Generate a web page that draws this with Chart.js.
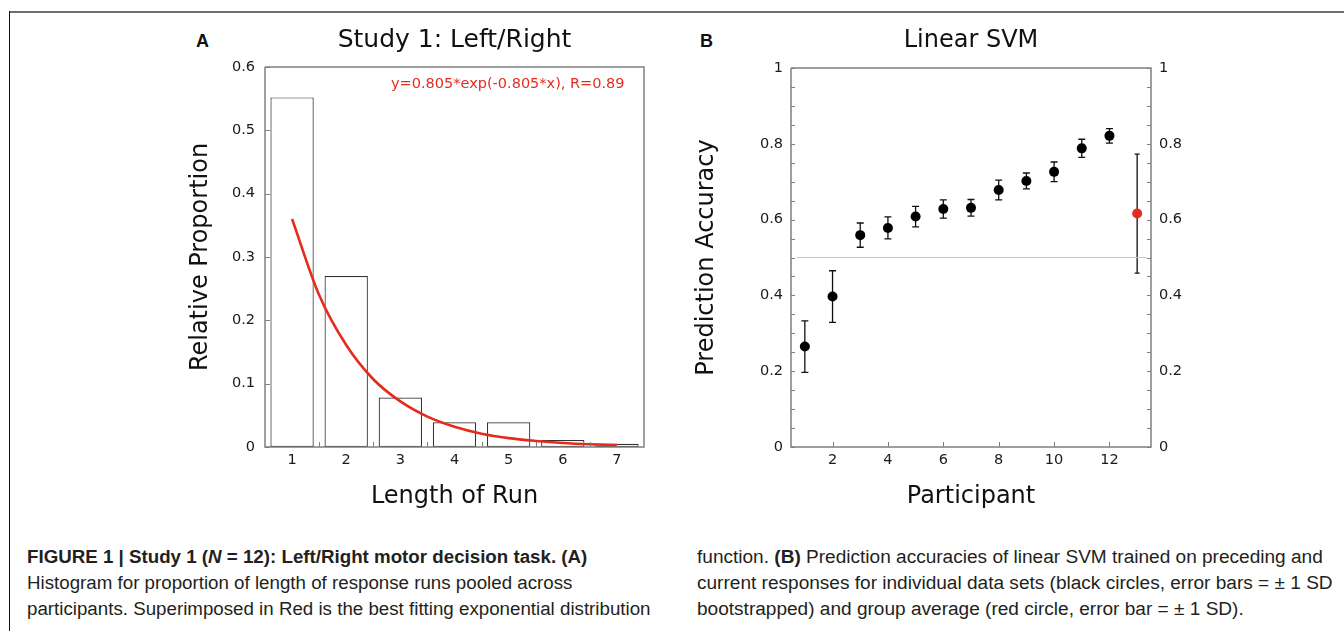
<!DOCTYPE html>
<html>
<head>
<meta charset="utf-8">
<script src="https://cdn.jsdelivr.net/npm/chart.js@4.4.0/dist/chart.umd.min.js"></script>
<style>
html, body { margin: 0; padding: 0; background: #fff; }
body { width: 1344px; height: 631px; position: relative; overflow: hidden; font-family: "DejaVu Sans", sans-serif; }
.frame-top { position: absolute; left: 9px; top: 11px; width: 1335px; height: 2px; background: #6e6e6e; }
.frame-left { position: absolute; left: 9px; top: 11px; width: 1px; height: 620px; background: #111; }
.panel { position: absolute; font-family: "Liberation Sans", Arial, sans-serif; font-weight: bold; font-size: 18px; color: #111; }
#chartA { position: absolute; left: 170px; top: 18px; }
#chartB { position: absolute; left: 680px; top: 18px; }
.fit { position: absolute; left: 391px; top: 75px; color: #e62b1e; font-size: 14.5px; white-space: nowrap; }
.cap { position: absolute; white-space: nowrap; font-family: "Liberation Sans", Arial, sans-serif; font-size: 18px; line-height: 26px; color: #231f20; transform-origin: 0 50%; }
</style>
</head>
<body>
<div class="frame-top"></div>
<div class="frame-left"></div>
<div class="panel" style="left:196px; top:31px;">A</div>
<div class="panel" style="left:700px; top:31px;">B</div>
<canvas id="chartA" width="490" height="505"></canvas>
<canvas id="chartB" width="540" height="505"></canvas>
<div class="fit">y=0.805*exp(-0.805*x), R=0.89</div>

<div class="cap" data-col="L" data-w="560" style="left:27px; top:544px;"><b>FIGURE 1 | Study 1 (<i>N</i> = 12): Left/Right motor decision task. (A)</b></div>
<div class="cap" data-col="L" style="left:27px; top:570px;">Histogram for proportion of length of response runs pooled across</div>
<div class="cap" data-col="L" data-w="624" style="left:27px; top:596px;">participants. Superimposed in Red is the best fitting exponential distribution</div>
<div class="cap" data-col="R" style="left:697px; top:544px;">function. <b>(B)</b> Prediction accuracies of linear SVM trained on preceding and</div>
<div class="cap" data-col="R" data-w="636" style="left:697px; top:570px;">current responses for individual data sets (black circles, error bars = ± 1 SD</div>
<div class="cap" data-col="R" style="left:697px; top:596px;">bootstrapped) and group average (red circle, error bar = ± 1 SD).</div>

<script>
// Panel A: run-length histogram + exponential fit
const runLengths = [1, 2, 3, 4, 5, 6, 7];
const runProportion = [0.552, 0.270, 0.078, 0.039, 0.039, 0.011, 0.005];
const fitX = [1, 1.5, 2, 2.5, 3, 3.5, 4, 4.5, 5, 5.5, 6, 6.5, 7];
const fitY = [0.36, 0.24, 0.161, 0.107, 0.072, 0.048, 0.032, 0.021, 0.014, 0.0096, 0.0064, 0.0043, 0.0029];
const yTicksA = [0, 0.1, 0.2, 0.3, 0.4, 0.5, 0.6];
const xMinorA = [1.5, 2.5, 3.5, 4.5, 5.5, 6.5];

// Panel B: linear SVM accuracy per participant
const participants = [1, 2, 3, 4, 5, 6, 7, 8, 9, 10, 11, 12];
const accuracy = [0.265, 0.397, 0.559, 0.578, 0.608, 0.628, 0.631, 0.678, 0.702, 0.726, 0.788, 0.821];
const accuracySd = [0.068, 0.068, 0.032, 0.029, 0.027, 0.024, 0.022, 0.026, 0.021, 0.026, 0.024, 0.019];
const groupX = [13];
const groupMean = [0.616];
const groupSd = [0.157];
const chanceX = [0.7, 13.35];
const chanceY = [0.5, 0.5];
const xTicksB = [2, 4, 6, 8, 10, 12];
const yTicksB = [0, 0.2, 0.4, 0.6, 0.8, 1];

const RED = '#e62b1e';
const AXIS = '#808080';

// caption lines: one horizontal squeeze per column, taken from the line with a known width
['L', 'R'].forEach(col => {
    const lines = [...document.querySelectorAll(`.cap[data-col="${col}"]`)];
    const ref = lines.filter(el => el.dataset.w);
    const k = ref.reduce((s, el) => s + el.dataset.w / el.offsetWidth, 0) / ref.length;
    lines.forEach(el => { el.style.transform = `scaleX(${k})`; });
});

// inward tick marks and frame lines
const axisDecor = {
    id: 'axisDecor',
    afterDraw(chart, args, o) {
        const { ctx, chartArea: a, scales } = chart;
        ctx.save();
        ctx.strokeStyle = AXIS;
        ctx.lineWidth = 1.5;
        ctx.beginPath();
        ctx.moveTo(a.left, a.top);
        ctx.lineTo(a.left, a.bottom);
        ctx.lineTo(a.right, a.bottom);
        ctx.lineTo(a.right, a.top);
        ctx.lineTo(a.left, a.top);
        ctx.stroke();
        ctx.lineWidth = 1;
        ctx.beginPath();
        (o.xMarks || []).forEach(m => {
            m.values.forEach(v => {
                const px = Math.round(scales.x.getPixelForValue(v)) + 0.5;
                ctx.moveTo(px, a.bottom);
                ctx.lineTo(px, a.bottom - m.len);
            });
        });
        (o.yMarks || []).forEach(m => {
            const sc = scales[m.axis];
            m.values.forEach(v => {
                const py = Math.round(sc.getPixelForValue(v)) + 0.5;
                if (m.side === 'left') {
                    ctx.moveTo(a.left, py);
                    ctx.lineTo(a.left + m.len, py);
                } else {
                    ctx.moveTo(a.right, py);
                    ctx.lineTo(a.right - m.len, py);
                }
            });
        });
        ctx.stroke();
        ctx.restore();
    }
};

const errorBars = {
    id: 'errorBars',
    beforeDatasetsDraw(chart) {
        const { ctx, scales: { x, y } } = chart;
        chart.data.datasets.forEach(ds => {
            if (!ds.errors) return;
            ctx.save();
            ctx.strokeStyle = '#111';
            ctx.lineWidth = 1.3;
            ds.data.forEach((p, i) => {
                const px = x.getPixelForValue(p.x);
                const top = y.getPixelForValue(p.y + ds.errors[i]);
                const bot = y.getPixelForValue(p.y - ds.errors[i]);
                ctx.beginPath();
                ctx.moveTo(px, top);
                ctx.lineTo(px, bot);
                ctx.moveTo(px - ds.capHalf, top);
                ctx.lineTo(px + ds.capHalf, top);
                ctx.moveTo(px - ds.capHalf, bot);
                ctx.lineTo(px + ds.capHalf, bot);
                ctx.stroke();
            });
            ctx.restore();
        });
    }
};

const tickFont = { family: 'DejaVu Sans', size: 14.5 };
const titleFont = { family: 'DejaVu Sans', size: 24 };

new Chart(document.getElementById('chartA'), {
    type: 'bar',
    data: {
        datasets: [
            {
                type: 'line',
                order: 0,
                data: fitX.map((x, i) => ({ x, y: fitY[i] })),
                borderColor: RED,
                borderWidth: 2.6,
                pointRadius: 0,
                cubicInterpolationMode: 'monotone',
                fill: false
            },
            {
                type: 'bar',
                order: 1,
                data: runLengths.map((x, i) => ({ x, y: runProportion[i] })),
                backgroundColor: '#fff',
                borderColor: '#333',
                borderWidth: 1.2,
                borderSkipped: false,
                categoryPercentage: 1,
                barPercentage: 0.8
            }
        ]
    },
    options: {
        responsive: false,
        animation: false,
        layout: { padding: { left: 0, top: 0, bottom: 0, right: 16 } },
        plugins: {
            legend: { display: false },
            tooltip: { enabled: false },
            title: {
                display: true,
                text: 'Study 1: Left/Right',
                fullSize: false,
                color: '#111',
                font: { family: 'DejaVu Sans', size: 25, weight: 'normal' },
                padding: { top: 7, bottom: 12 }
            },
            axisDecor: {
                xMarks: [{ values: xMinorA, len: 5 }],
                yMarks: [{ axis: 'y', side: 'left', values: yTicksA, len: 5 }]
            }
        },
        scales: {
            x: {
                type: 'linear',
                offset: false,
                min: 0.5,
                max: 7.5,
                afterBuildTicks: s => { s.ticks = runLengths.map(v => ({ value: v })); },
                afterFit: s => { s.height = 76; },
                grid: { display: false, drawTicks: false, offset: false },
                border: { display: false },
                ticks: { padding: 5, color: '#1a1a1a', font: tickFont, callback: v => String(v) },
                title: { display: true, text: 'Length of Run', color: '#111', font: titleFont, padding: { top: 0, bottom: 11.6 } }
            },
            y: {
                min: 0,
                max: 0.6,
                afterBuildTicks: s => { s.ticks = yTicksA.map(v => ({ value: v })); },
                afterFit: s => { s.width = 95; },
                grid: { display: false, drawTicks: false },
                border: { display: false },
                ticks: { padding: 10, color: '#1a1a1a', font: tickFont, callback: v => String(v) },
                title: { display: true, text: 'Relative Proportion', color: '#111', font: titleFont, padding: { top: 16.6, bottom: 0 } }
            }
        }
    },
    plugins: [axisDecor]
});

const minorB = Array.from({ length: 21 }, (_, i) => i * 0.05);

new Chart(document.getElementById('chartB'), {
    type: 'scatter',
    data: {
        datasets: [
            {
                data: participants.map((x, i) => ({ x, y: accuracy[i] })),
                errors: accuracySd,
                capHalf: 3.5,
                backgroundColor: '#000',
                borderWidth: 0,
                pointRadius: 5
            },
            {
                data: groupX.map((x, i) => ({ x, y: groupMean[i] })),
                errors: groupSd,
                capHalf: 2.5,
                backgroundColor: RED,
                borderWidth: 0,
                pointRadius: 5
            },
            {
                type: 'line',
                data: chanceX.map((x, i) => ({ x, y: chanceY[i] })),
                borderColor: '#c4c4c4',
                borderWidth: 1.2,
                pointRadius: 0,
                fill: false
            }
        ]
    },
    options: {
        responsive: false,
        animation: false,
        layout: { padding: 0 },
        plugins: {
            legend: { display: false },
            tooltip: { enabled: false },
            title: {
                display: true,
                text: 'Linear SVM',
                fullSize: false,
                color: '#111',
                font: { family: 'DejaVu Sans', size: 24, weight: 'normal' },
                padding: { top: 8, bottom: 13.2 }
            },
            axisDecor: {
                xMarks: [{ values: xTicksB, len: 5 }],
                yMarks: [
                    { axis: 'y', side: 'left', values: minorB, len: 4 },
                    { axis: 'y', side: 'right', values: minorB, len: 4 }
                ]
            }
        },
        scales: {
            x: {
                type: 'linear',
                min: 0.5,
                max: 13.5,
                afterBuildTicks: s => { s.ticks = xTicksB.map(v => ({ value: v })); },
                afterFit: s => { s.height = 76; },
                grid: { display: false, drawTicks: false },
                border: { display: false },
                ticks: { padding: 5, color: '#1a1a1a', font: tickFont, callback: v => String(v) },
                title: { display: true, text: 'Participant', color: '#111', font: titleFont, padding: { top: 0, bottom: 11.6 } }
            },
            y: {
                min: 0,
                max: 1,
                afterBuildTicks: s => { s.ticks = yTicksB.map(v => ({ value: v })); },
                afterFit: s => { s.width = 111; },
                grid: { display: false, drawTicks: false },
                border: { display: false },
                ticks: { padding: 8, color: '#1a1a1a', font: tickFont, callback: v => String(v) },
                title: { display: true, text: 'Prediction Accuracy', color: '#111', font: titleFont, padding: { top: 12.6, bottom: 0 } }
            },
            y2: {
                position: 'right',
                min: 0,
                max: 1,
                afterBuildTicks: s => { s.ticks = yTicksB.map(v => ({ value: v })); },
                afterFit: s => { s.width = 69; },
                grid: { display: false, drawTicks: false },
                border: { display: false },
                ticks: { padding: 8, color: '#1a1a1a', font: tickFont, callback: v => String(v) }
            }
        }
    },
    plugins: [axisDecor, errorBars]
});
</script>
</body>
</html>
